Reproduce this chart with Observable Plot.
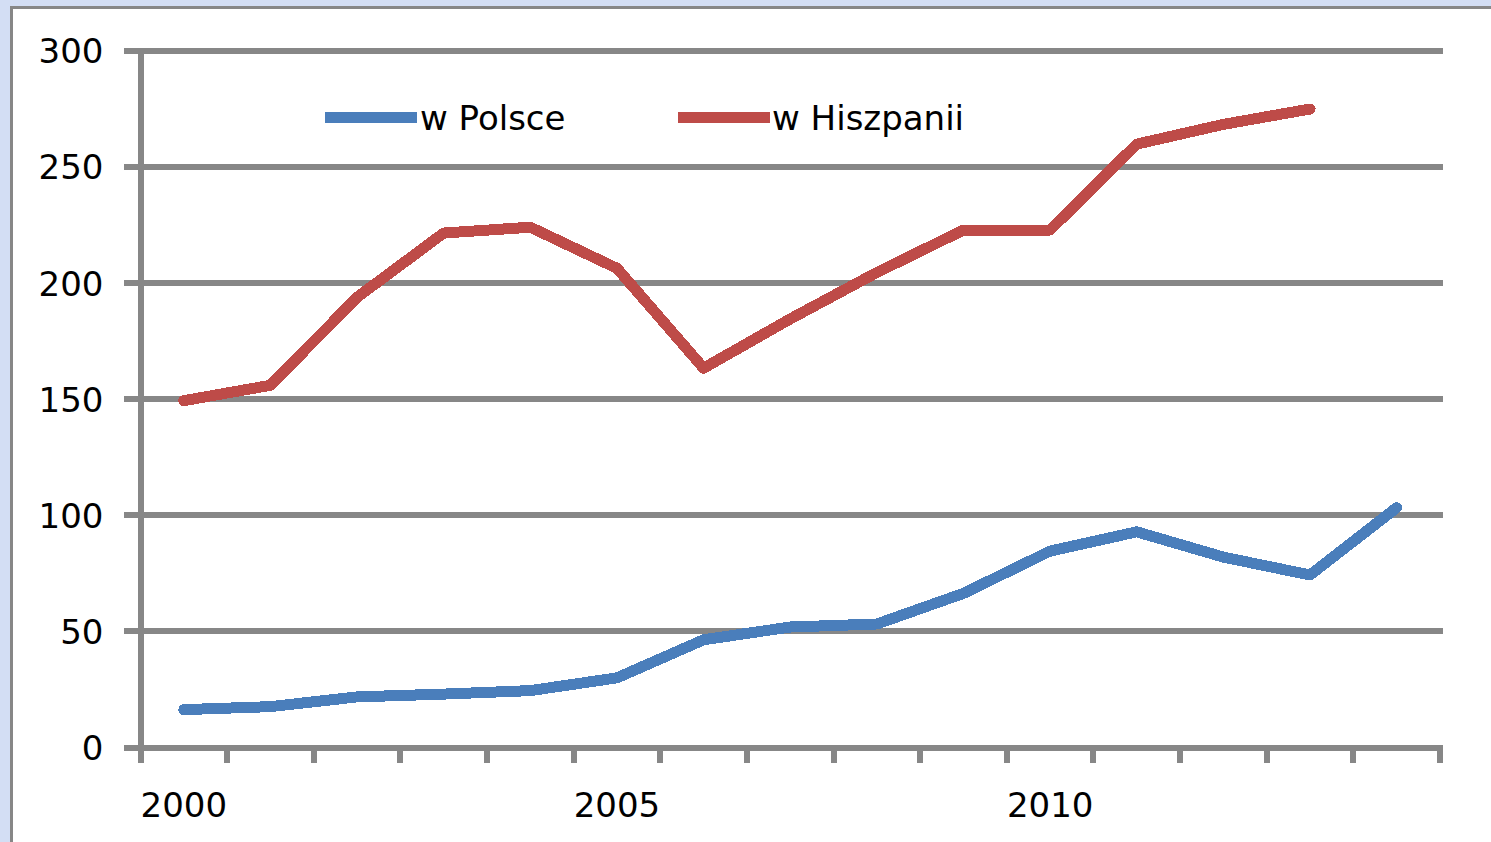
<!DOCTYPE html>
<html><head><meta charset="utf-8">
<script src="https://cdn.jsdelivr.net/npm/d3@7"></script>
<script src="https://cdn.jsdelivr.net/npm/@observablehq/plot@0.6"></script>
<style>
html,body{margin:0;padding:0;width:1491px;height:842px;overflow:hidden;background:#d3def4;}
#frame{position:absolute;left:10px;top:6px;width:1520px;height:870px;background:#fff;border-left:3px solid #878787;border-top:3px solid #878787;}
#chart{position:absolute;left:0;top:0;}
.legtext{position:absolute;font-family:"DejaVu Sans";font-size:34px;line-height:34px;color:#000;white-space:nowrap;}
.sw{position:absolute;height:11px;}
</style></head><body>
<div id="frame"></div>
<div id="chart"></div>
<div id="legend"></div>
<script>
const years = [2000, 2001, 2002, 2003, 2004, 2005, 2006, 2007, 2008, 2009, 2010, 2011, 2012, 2013, 2014];
const polsce = [16.3, 17.6, 21.8, 23.0, 24.5, 30.0, 46.4, 51.9, 53.2, 66.4, 84.6, 92.9, 82.0, 74.3, 103.3];
const hiszpanii = [149.4, 156.0, 193.9, 221.6, 224.1, 206.4, 163.4, 184.6, 204.6, 222.9, 222.9, 259.9, 268.4, 275.0, null];
const seriesNames = ["w Polsce", "w Hiszpanii"];
const seriesColors = ["#4a7ebb", "#be4b48"];
const yTicks = [0, 50, 100, 150, 200, 250, 300];
const xLabelYears = [2000, 2005, 2010];

const rows = [];
years.forEach((yr, i) => {
  rows.push({year: yr, value: polsce[i], series: seriesNames[0]});
  if (hiszpanii[i] != null) rows.push({year: yr, value: hiszpanii[i], series: seriesNames[1]});
});
const boundaries = years.map(y => y - 0.5).concat([years[years.length - 1] + 0.5]);
const grid = "#878787";

const chart = Plot.plot({
  width: 1491, height: 842,
  marginLeft: 140, marginRight: 51.5, marginTop: 50.5, marginBottom: 95,
  style: {background: "transparent", fontFamily: "DejaVu Sans", fontSize: "34px", color: "#000", overflow: "visible"},
  x: {domain: [boundaries[0], boundaries[boundaries.length - 1]], label: null},
  y: {domain: [0, 300], label: null},
  color: {domain: seriesNames, range: seriesColors},
  marks: [
    Plot.ruleY(yTicks, {stroke: grid, strokeWidth: 6, insetLeft: -16, insetRight: -3.5, shapeRendering: "crispEdges"}),
    Plot.ruleX([boundaries[0]], {stroke: grid, strokeWidth: 6, shapeRendering: "crispEdges"}),
    Plot.axisX(boundaries, {tickSize: 16, tickFormat: () => "", stroke: grid, strokeWidth: 6, shapeRendering: "crispEdges"}),
    Plot.axisX(xLabelYears, {tickSize: 0, tickPadding: 45, tickFormat: d => String(d), fontSize: 34, fill: "#000"}),
    Plot.axisY(yTicks, {tickSize: 0, tickPadding: 37, fontSize: 34, fill: "#000", dy: 1.5}),
    Plot.line(rows, {x: "year", y: "value", z: "series", stroke: "series", strokeWidth: 11,
      strokeLinejoin: "round", strokeLinecap: "round", shapeRendering: "crispEdges"})
  ]
});
document.getElementById("chart").appendChild(chart);

// legend
const legendPos = [{sw: 325, text: 420}, {sw: 678, text: 772}];
const leg = d3.select("#legend");
seriesNames.forEach((name, i) => {
  leg.append("div").attr("class", "sw")
    .style("left", legendPos[i].sw + "px").style("top", "112px")
    .style("width", "92px").style("background", seriesColors[i]);
  leg.append("div").attr("class", "legtext")
    .style("left", legendPos[i].text + "px").style("top", "101px")
    .text(name);
});
</script>
</body></html>
